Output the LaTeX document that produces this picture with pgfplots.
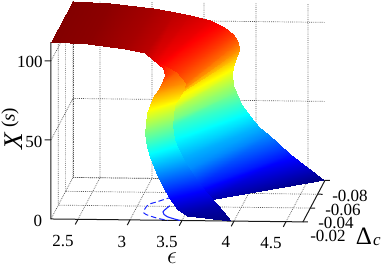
\documentclass[border=0pt]{standalone}
\usepackage{pgfplots}
\usepackage{fontspec}
\setmainfont{Liberation Serif}
\pgfplotsset{compat=1.18}
\newcommand\lab[3]{\node[inner sep=0pt,font=\fontsize{17bp}{18bp}\selectfont] at ([shift={({#1-51},{219-#2})}]O) {#3};}
\begin{document}
\begin{tikzpicture}[x=1bp,y=1bp]
\begin{axis}[
  x={(104bp,-1.2bp)}, y={(-366.7bp,-691.7bp)}, z={(0bp,1.58bp)},
  xmin=2.24,xmax=4.663,ymin=-0.08,ymax=-0.02,zmin=0,zmax=112,
  clip=false, hide axis,
  colormap/jet, point meta min=0, point meta max=112,
  z buffer=none,
]
\tikzset{gl/.style={draw=black!65,line width=0.7bp,dash pattern=on 0.8bp off 1.1bp},
         al/.style={draw=black!90,line width=1bp}}
% grid on the three back walls
\pgfplotsinvokeforeach{2.5,3,3.5,4,4.5}{
  \draw[gl] (axis cs:#1,-0.02,0) -- (axis cs:#1,-0.08,0) -- (axis cs:#1,-0.08,112);
}
\pgfplotsinvokeforeach{-0.08,-0.06,-0.04}{
  \draw[gl] (axis cs:4.663,#1,0) -- (axis cs:2.24,#1,0) -- (axis cs:2.24,#1,112);
}
\pgfplotsinvokeforeach{50,100}{
  \draw[gl] (axis cs:2.24,-0.02,#1) -- (axis cs:2.24,-0.08,#1) -- (axis cs:4.663,-0.08,#1);
}
\draw[gl] (axis cs:2.24,-0.02,0) -- (axis cs:2.24,-0.08,0);
\draw[gl] (axis cs:2.24,-0.08,0) -- (axis cs:4.663,-0.08,0);
\draw[gl] (axis cs:2.24,-0.08,0) -- (axis cs:2.24,-0.08,112);
% axis lines and ticks
\draw[al] (axis cs:2.24,-0.02,112) -- (axis cs:2.24,-0.02,0) -- (axis cs:4.663,-0.02,0) -- (axis cs:4.663,-0.08,0);
\pgfplotsinvokeforeach{2.5,3,3.5,4,4.5}{
  \draw[al] (axis cs:#1,-0.02,0) -- (axis cs:#1,-0.0125,0);
}
\pgfplotsinvokeforeach{-0.08,-0.06,-0.04,-0.02}{
  \draw[al] (axis cs:4.663,#1,0) -- (axis cs:4.71,#1,0);
}
\pgfplotsinvokeforeach{50,100}{
  \draw[al] (axis cs:2.24,-0.02,#1) -- (axis cs:2.18,-0.02,#1);
}
\addplot3[color={rgb,1:red,0.1;green,0.15;blue,1},line width=1bp,dash pattern=on 5.5bp off 3bp,no marks,smooth] coordinates {
 (3.284,-0.0536,0)(3.166,-0.0464,0)(3.096,-0.0416,0)(3.099,-0.030,0)(3.249,-0.023,0)(3.365,-0.02,0)};
\addplot3[color={rgb,1:red,0.1;green,0.15;blue,1},line width=1.1bp,no marks,smooth] coordinates {
 (3.31,-0.041,0)(3.275,-0.032,0)(3.336,-0.0254,0)(3.48,-0.02,0)};
\addplot3[surf,shader=interp,mesh/cols=2] table {
x y z
2.24 -0.02 111.7
2.24 -0.08 111.7

2.596 -0.02 110.7
2.596 -0.08 110.7

2.952 -0.02 107.9
3.009 -0.08 107.9

3.144 -0.02 105.5
3.221 -0.08 105.5

3.221 -0.02 101.4
3.365 -0.08 103.7

3.269 -0.02 98.9
3.557 -0.08 100.7

3.336 -0.02 95.1
3.692 -0.08 96.4

3.432 -0.02 91.4
3.778 -0.08 92.0

3.509 -0.02 85.8
3.827 -0.08 87.0

3.484 -0.0218 81.9
3.836 -0.08 81.9

3.418 -0.0242 76.8
3.807 -0.08 76.8

3.342 -0.032 71.1
3.778 -0.08 71.1

3.344 -0.0314 66.7
3.769 -0.08 66.7

3.317 -0.039 59.7
3.778 -0.08 59.7

3.318 -0.0388 55.3
3.807 -0.08 55.3

3.293 -0.0458 47.7
3.855 -0.08 47.7

3.36 -0.0404 40.2
3.942 -0.08 40.2

3.452 -0.0362 33.3
4.028 -0.08 33.3

3.513 -0.0272 28.9
4.115 -0.08 28.9

3.618 -0.0302 16.5
4.327 -0.08 16.5

3.696 -0.038 5
4.653 -0.08 0
};
\addplot3[surf,shader=interp,mesh/cols=2] table {
x y z
3.221 -0.02 101.4
3.221 -0.02 101.4

3.317 -0.02 96.4
3.315 -0.026 95.0

3.336 -0.02 92.0
3.40 -0.032 88.7

3.288 -0.02 84.3
3.486 -0.032 81.8

3.221 -0.02 78.0
3.467 -0.032 76.7

3.163 -0.02 67.8
3.38 -0.032 67.8

3.144 -0.02 55.1
3.361 -0.032 55.1

3.163 -0.02 46.2
3.38 -0.032 46.2

3.192 -0.02 40.0
3.419 -0.032 39.9

3.25 -0.02 30.5
3.496 -0.032 30.5

3.317 -0.02 21.1
3.592 -0.032 21.1

3.384 -0.02 13.5
3.679 -0.032 13.5

3.451 -0.02 7.2
3.803 -0.032 4.8

3.548 -0.02 2.9
3.971 -0.02 0
};
\coordinate (O) at (axis cs:2.24,-0.02,0);
\coordinate (bl) at (axis cs:1.75,-0.02,-31.4);
\coordinate (tr) at (axis cs:5.423,-0.02,141);
\end{axis}
\lab{63}{241}{2.5}\lab{122}{242}{3}\lab{167}{242}{3.5}\lab{226}{242}{4}\lab{271}{243}{4.5}
\lab{328}{236}{-0.02}\lab{336}{223}{-0.04}\lab{343}{210}{-0.06}\lab{350}{196}{-0.08}
\lab{30}{62}{100}\lab{34}{142}{50}\lab{38}{221}{0}
\node[inner sep=0pt,font=\fontsize{26bp}{26bp}\selectfont] at ([shift={({172-51},{219-258})}]O) {$\epsilon$};
\node[inner sep=0pt,rotate=90,font=\fontsize{27bp}{28bp}\selectfont] at ([shift={({14-51},{219-141})}]O) {\textit{X}};
\node[inner sep=0pt,rotate=90,font=\fontsize{19bp}{20bp}\selectfont] at ([shift={({10-51},{219-118})}]O) {(\textit{s})};
\node[inner sep=0pt,font=\fontsize{25bp}{26bp}\selectfont] at ([shift={({364-51},{219-236})}]O) {Δ};
\node[inner sep=0pt,font=\fontsize{17bp}{18bp}\selectfont] at ([shift={({377-51},{219-242})}]O) {\textit{c}};
\pgfresetboundingbox
\path[use as bounding box] (bl) rectangle (tr);
\end{tikzpicture}
\end{document}
